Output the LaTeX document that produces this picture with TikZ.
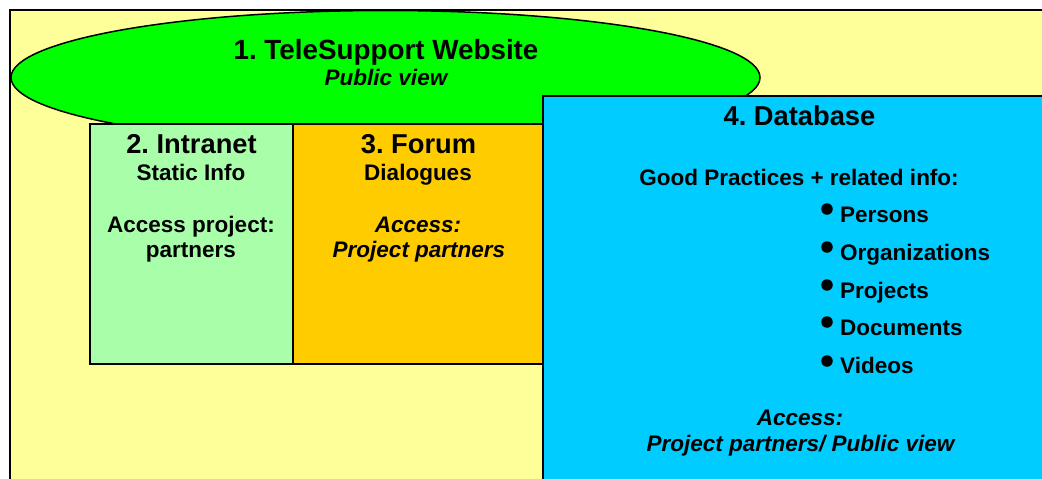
\documentclass[tikz,border=0pt]{standalone}
\usepackage{fontspec}
\setmainfont{Liberation Sans}
\usetikzlibrary{shapes.geometric}
\definecolor{bgyellow}{HTML}{FFFF99}
\definecolor{webgreen}{HTML}{00FF00}
\definecolor{intragreen}{HTML}{A9FFA9}
\definecolor{forumorange}{HTML}{FFCC00}
\definecolor{dbblue}{HTML}{00CCFF}
\tikzset{
  panel/.style={draw=black,line width=1.5pt,anchor=north west,inner sep=0pt,outer sep=0pt},
  txt/.style={anchor=base,inner sep=0pt,font=\frenchspacing\bfseries\fontsize{22.5}{26}\selectfont},
  big/.style={anchor=base,inner sep=0pt,font=\frenchspacing\bfseries\fontsize{27.3}{30}\selectfont},
  bigger/.style={anchor=base,inner sep=0pt,font=\frenchspacing\bfseries\fontsize{27.8}{30}\selectfont},
  ital/.style={anchor=base,inner sep=0pt,font=\frenchspacing\bfseries\itshape\fontsize{22.5}{26}\selectfont},
  item/.style={anchor=base west,inner sep=0pt,font=\frenchspacing\bfseries\fontsize{22.5}{26}\selectfont},
  dot/.style={circle,fill=black,draw=none,minimum size=11.5pt,inner sep=0pt}
}
\begin{document}
\begin{tikzpicture}[x=1pt,y=-1pt]
\useasboundingbox (0,0) rectangle (1042,479);
\clip (0,0) rectangle (1042,479);
\fill[white] (0,0) rectangle (1042,479);
\node[panel,line width=2pt,fill=bgyellow,minimum width=1060pt,minimum height=490pt] (bg) at (9.5,9.5) {};
\node[ellipse,draw=black,fill=webgreen,line width=1.5pt,minimum width=749pt,minimum height=134pt,inner sep=0pt,outer sep=0pt] (web) at (385.5,77.5) {};
\node[panel,fill=intragreen,minimum width=203pt,minimum height=240pt] (intra) at (90,124) {};
\node[panel,fill=forumorange,minimum width=260pt,minimum height=240pt] (forum) at (293,124) {};
\node[panel,fill=dbblue,minimum width=520pt,minimum height=400pt] (db) at (543,96) {};
\node[bigger] (t1) at (386,59) {1. TeleSupport Website};
\node[ital] (t1b) at (386,85.5) {Public view};
\node[big] (t2) at (191.5,153) {2. Intranet};
\node[txt] (t2b) at (191,180) {Static Info};
\node[txt] (t2c) at (191,232.5) {Access project:};
\node[txt] (t2d) at (191,257.5) {partners};
\node[big] (t3) at (418.5,153) {3. Forum};
\node[txt] (t3b) at (418,180) {Dialogues};
\node[ital] (t3c) at (418,232.5) {Access:};
\node[ital] (t3d) at (419,257.5) {Project partners};
\node[big] (t4) at (799.5,125) {4. Database};
\node[txt] (t4b) at (799,185) {Good Practices + related info:};
\node[dot] (d1) at (827,209) {};
\node[dot] (d2) at (827,247) {};
\node[dot] (d3) at (827,285) {};
\node[dot] (d4) at (827,322) {};
\node[dot] (d5) at (827,361) {};
\node[item] (i1) at (840,222) {Persons};
\node[item] (i2) at (840,260) {Organizations};
\node[item] (i3) at (840,298) {Projects};
\node[item] (i4) at (840,335) {Documents};
\node[item] (i5) at (840,373) {Videos};
\node[ital] (t4c) at (800,425) {Access:};
\node[ital] (t4d) at (800.5,451) {Project partners/ Public view};
\end{tikzpicture}
\end{document}
